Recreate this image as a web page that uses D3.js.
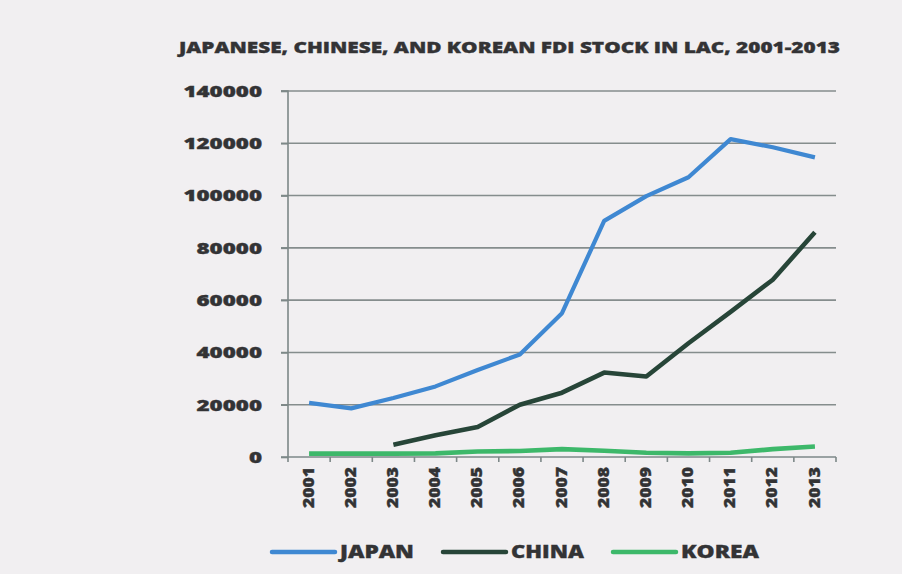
<!DOCTYPE html>
<html>
<head>
<meta charset="utf-8">
<script src="https://cdn.jsdelivr.net/npm/d3@7"></script>
<style>
  html, body { margin: 0; padding: 0; background: #f1eff1; }
  svg { display: block; }
  text { font-family: "Open Sans", "DejaVu Sans", sans-serif; font-weight: 800; fill: #333335; stroke: #333335; stroke-width: 0.35px; }
</style>
</head>
<body>
<script>
// FDI stock (US$ millions), 2001-2013
const years = ["2001","2002","2003","2004","2005","2006","2007","2008","2009","2010","2011","2012","2013"];
const japan = [20700, 18600, 22600, 27000, 33300, 39200, 55000, 90300, 99800, 107000, 121600, 118500, 114600];
const china = [null, null, 4700, 8300, 11500, 20000, 24600, 32300, 30800, 43500, 55500, 67800, 86000];
const korea = [1300, 1300, 1300, 1400, 2100, 2300, 3000, 2400, 1600, 1400, 1600, 3000, 4000];
const yTicks = [0, 20000, 40000, 60000, 80000, 100000, 120000, 140000];
const seriesNames = ["JAPAN", "CHINA", "KOREA"];
const seriesColors = ["#3f88d2", "#274538", "#3db86a"];

const W = 902, H = 574;
const svg = d3.select("body").append("svg").attr("width", W).attr("height", H);

const plot = { left: 288, right: 836, top: 91, bottom: 457 };

const x = d3.scaleBand().domain(years).range([plot.left, plot.right]);
const y = d3.scaleLinear().domain([0, 140000]).range([plot.bottom, plot.top]);

// title
svg.append("text")
  .attr("x", 179).attr("y", 53)
  .attr("font-size", 15.5)
  .attr("textLength", 661).attr("lengthAdjust", "spacingAndGlyphs")
  .text("JAPANESE, CHINESE, AND KOREAN FDI STOCK IN LAC, 2001-2013");

// horizontal gridlines
svg.append("g").selectAll("line")
  .data(yTicks.filter(d => d > 0))
  .join("line")
  .attr("x1", plot.left - 7).attr("x2", plot.right)
  .attr("y1", d => y(d)).attr("y2", d => y(d))
  .attr("stroke", "#858d8d").attr("stroke-width", 1.6);

// y axis
const yAxis = d3.axisLeft(y).tickValues(yTicks).tickSize(7).tickPadding(19).tickFormat(d3.format("d"));
const gy = svg.append("g").attr("transform", `translate(${plot.left},0)`).call(yAxis);
gy.select(".domain").attr("stroke", "#7d8888").attr("stroke-width", 1.6)
  .attr("d", `M-7,${plot.top}H0V${plot.bottom + 5}`);
gy.selectAll(".tick line").attr("stroke", "#7d8888").attr("stroke-width", 1.6);
gy.selectAll(".tick text")
  .attr("font-size", 15).attr("fill", "#333335")
  .attr("font-family", "'Open Sans', sans-serif").attr("font-weight", 800)
  .attr("dy", "0.36em")
  .attr("textLength", function(d) { return String(d).length * 13.1; })
  .attr("lengthAdjust", "spacingAndGlyphs");

// x axis: ticks at category boundaries, labels rotated
const gx = svg.append("g").attr("transform", `translate(0,${plot.bottom})`);
gx.append("line")
  .attr("x1", plot.left - 7).attr("x2", plot.right)
  .attr("stroke", "#7d8888").attr("stroke-width", 1.6);
gx.selectAll("line.tk")
  .data(years.slice(1))
  .join("line").attr("class", "tk")
  .attr("x1", d => x(d)).attr("x2", d => x(d))
  .attr("y1", 0).attr("y2", 5)
  .attr("stroke", "#7d8888").attr("stroke-width", 1.6);
gx.append("line")
  .attr("x1", plot.right).attr("x2", plot.right).attr("y1", 0).attr("y2", 5)
  .attr("stroke", "#7d8888").attr("stroke-width", 1.6);
gx.selectAll("text")
  .data(years)
  .join("text")
  .attr("transform", d => `translate(${x(d) + x.bandwidth() / 2 - 1},${51}) rotate(-90)`)
  .attr("font-size", 15.5)
  .attr("dy", "0.36em")
  .attr("textLength", 41).attr("lengthAdjust", "spacingAndGlyphs")
  .text(d => d);

// series lines
const allSeries = [japan, china, korea];
const line = d3.line()
  .defined(d => d != null)
  .x((d, i) => x(years[i]) + x.bandwidth() / 2)
  .y(d => y(d));

svg.append("g").selectAll("path")
  .data(allSeries)
  .join("path")
  .attr("d", d => line(d))
  .attr("fill", "none")
  .attr("stroke", (d, i) => seriesColors[i])
  .attr("stroke-width", (d, i) => i === 0 ? 4.2 : 4.6)
  .attr("stroke-linejoin", "round")
  .attr("stroke-linecap", "butt");

// legend
const legendX = [272, 443, 613];
const legendTextW = [74, 73, 78];
const lg = svg.append("g").selectAll("g")
  .data(seriesNames)
  .join("g")
  .attr("transform", (d, i) => `translate(${legendX[i]},552)`);
lg.append("line")
  .attr("x1", 0).attr("x2", 63)
  .attr("stroke", (d, i) => seriesColors[i])
  .attr("stroke-width", 4.5)
  .attr("stroke-linecap", "round");
lg.append("text")
  .attr("x", 68).attr("y", 0)
  .attr("dy", "0.36em")
  .attr("font-size", 18)
  .attr("textLength", (d, i) => legendTextW[i]).attr("lengthAdjust", "spacingAndGlyphs")
  .text(d => d);
</script>
</body>
</html>
